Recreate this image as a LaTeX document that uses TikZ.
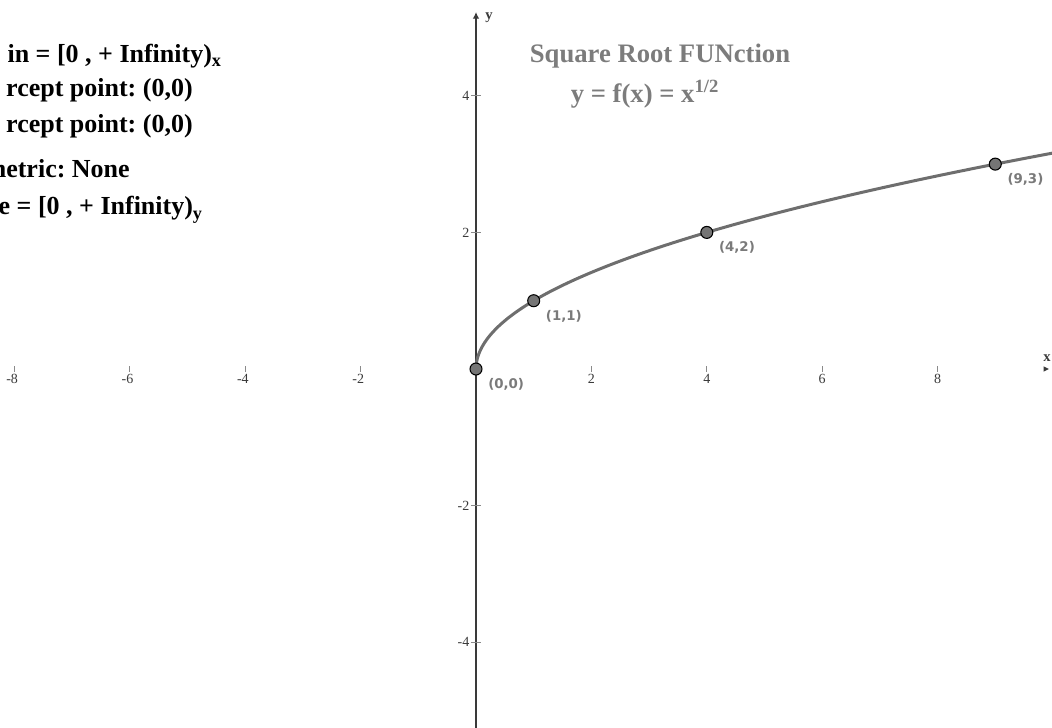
\documentclass[tikz,border=0pt]{standalone}
\usepackage{fontspec}
\setmainfont{Liberation Serif}
\newfontfamily\ptfont{DejaVu Sans}
\usetikzlibrary{arrows.meta}
\frenchspacing
\definecolor{curvegray}{HTML}{6E6E6E}
\definecolor{ptgray}{HTML}{757575}
\definecolor{lblgray}{HTML}{7A7A7A}
\definecolor{titlegray}{HTML}{7C7C7C}
\definecolor{axgray}{HTML}{3A3A3A}
\definecolor{tickgray}{HTML}{8A8A8A}

\begin{document}
\begin{tikzpicture}[x=43.275pt, y=51.225pt,
  every node/.style={inner sep=0pt},
  info/.style={anchor=base east, font=\bfseries\fontsize{19.5}{22}\selectfont},
  title/.style={anchor=base, text=titlegray, font=\bfseries\fontsize{20}{24}\selectfont},
  pt/.style={circle, draw=black, fill=ptgray, line width=0.8pt, minimum size=9pt},
  ptlabel/.style={anchor=north west, text=lblgray, font=\ptfont\bfseries\fontsize{10}{12}\selectfont},
  xnum/.style={anchor=north, text=axgray, font=\fontsize{10.5}{12}\selectfont},
  ynum/.style={anchor=east, text=axgray, font=\fontsize{10.5}{12}\selectfont},
  axlabel/.style={text=axgray, font=\bfseries\fontsize{11}{13}\selectfont}]
  \useasboundingbox (-8.25,-5.256) rectangle (9.983,5.403);

  % left text, cut at the page edge
  \node[info] (domain) at (-4.402,4.495) {in = [0 , + Infinity)\textsubscript{x}};
  \node[info] (xint) at (-4.905,3.997) {rcept point: (0,0)};
  \node[info] (yint) at (-4.905,3.470) {rcept point: (0,0)};
  \node[info] (sym) at (-5.997,2.811) {netric: None};
  \node[info] (range) at (-4.731,2.255) {e = [0 , + Infinity)\textsubscript{y}};

  % title
  \node[title] (name) at (3.189,4.495) {Square Root FUNction};
  \node[title] (formula) at (2.929,3.895) {y = f(x) = x\textsuperscript{1/2}};

  % axes
  \draw[axgray, line width=1.5pt, -{Latex[length=5pt,width=5pt]}] (0,-5.256) -- (0,5.227);
  \fill[axgray] (9.93,0) -- ++(-4pt,2pt) -- ++(0,-4pt) -- cycle;
  \node[axlabel] (ylab) at (0.225,5.14) {y};
  \node[axlabel] (xlab) at (9.896,0.161) {x};

  \foreach \i in {-8,-6,-4,-2,2,4,6,8} {
    \draw[tickgray, line width=0.6pt] (\i,0.044) -- (\i,-0.044);
  }
  \foreach \i in {2,4,6,8}
    \node[xnum] (xn\i) at (\i,-0.07) {\i};
  \foreach \i in {8,6,4,2}
    \node[xnum] (xm\i) at (-\i,-0.07) {\llap{-}\i};

  \foreach \j in {-4,-2,2,4} {
    \draw[tickgray, line width=0.6pt] (-0.087,\j) -- (0.087,\j);
    \node[ynum] (yn\j) at (-0.11,\j) {\j};
  }

  % the curve
  \begin{scope}
    \clip (-8.25,-5.256) rectangle (9.983,5.403);
    \draw[curvegray, line width=2.25pt, line cap=round, smooth, samples=80, domain=0:3.3]
      plot ({\x*\x},{\x});
  \end{scope}

  % points
  \node[pt] (p00) at (0,0) {};
  \node[pt] (p11) at (1,1) {};
  \node[pt] (p42) at (4,2) {};
  \node[pt] (p93) at (9,3) {};
  \node[ptlabel] (l00) at ([xshift=9pt,yshift=-6.75pt]p00.center) {(0,0)};
  \node[ptlabel] (l11) at ([xshift=9pt,yshift=-6.75pt]p11.center) {(1,1)};
  \node[ptlabel] (l42) at ([xshift=9pt,yshift=-6.75pt]p42.center) {(4,2)};
  \node[ptlabel] (l93) at ([xshift=9pt,yshift=-6.75pt]p93.center) {(9,3)};
\end{tikzpicture}
\end{document}
